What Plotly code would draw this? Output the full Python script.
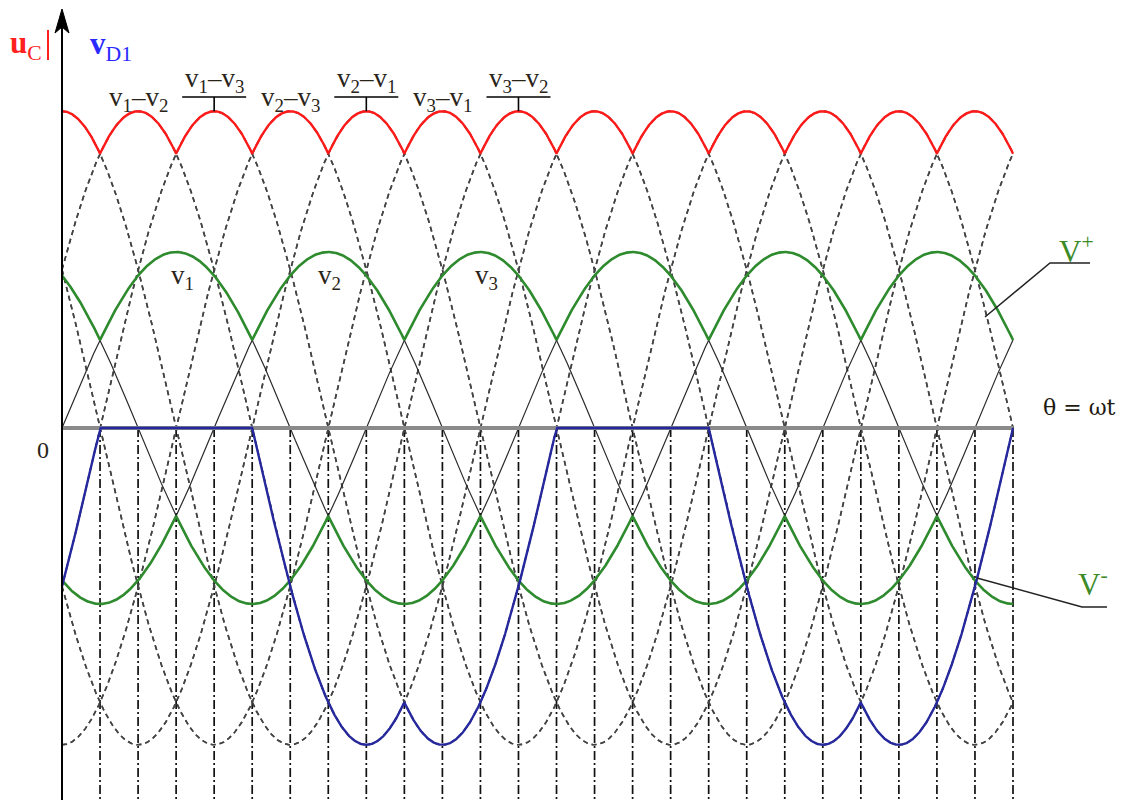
import numpy as np
import plotly.graph_objects as go

# ---------------- data ----------------
THETA_MAX = 750                      # end of drawn range, degrees
PHASE_AMP = 1.0                      # phase voltage amplitude
LINE_AMP = 1.8                       # line-to-line voltage amplitude (as drawn)
phase_names = ["v1", "v2", "v3"]
phase_lag = [0, 120, 240]            # degrees
line_names = ["v3-v2", "v1-v2", "v1-v3", "v2-v3", "v2-v1", "v3-v1"]
line_peak = [0, 60, 120, 180, 240, 300]   # angle of each line-voltage peak
divider_angles = list(range(30, THETA_MAX + 1, 30))

peak_label_text = ["v<sub>1</sub>–v<sub>2</sub>", "v<sub>1</sub>–v<sub>3</sub>",
                   "v<sub>2</sub>–v<sub>3</sub>", "v<sub>2</sub>–v<sub>1</sub>",
                   "v<sub>3</sub>–v<sub>1</sub>", "v<sub>3</sub>–v<sub>2</sub>"]
peak_label_theta = [60, 120, 180, 240, 300, 360]
peak_label_raised = [False, True, False, True, False, True]
phase_label_text = ["v<sub>1</sub>", "v<sub>2</sub>", "v<sub>3</sub>"]
phase_label_theta = [95, 211, 335]

# ---------------- geometry of the page ----------------
W, H = 1130, 800
OFF = 8                              # page body margin in the browser
X0_PX, XEND_PX = 62, 1013            # theta = 0 and theta = THETA_MAX (screen px)
Y0_PX, UNIT_PX = 428, 176            # zero line and one phase amplitude
SX = (XEND_PX - X0_PX) / THETA_MAX
x_range = [-(X0_PX - OFF) / SX, (W - (X0_PX - OFF)) / SX]
y_range = [-(H - (Y0_PX - OFF)) / UNIT_PX, (Y0_PX - OFF) / UNIT_PX]


def px(x, y):
    """screen pixel -> paper coordinates"""
    return (x - OFF) / W, 1 - (y - OFF) / H


theta = np.linspace(0, THETA_MAX, 3001)
rad = np.deg2rad(theta)
phases = [PHASE_AMP * np.sin(rad - np.deg2rad(s)) for s in phase_lag]
lines = [LINE_AMP * np.cos(rad - np.deg2rad(p)) for p in line_peak]
v_plus = np.max(phases, axis=0)
v_minus = np.min(phases, axis=0)
u_c = np.max(lines, axis=0)
# diode voltage: v1 - max phase, drawn with line-voltage scale
v_d1 = np.minimum(0, np.minimum(lines[1], lines[2]))

fig = go.Figure()

# dash-dot dividers (from zero line down)
for a in divider_angles:
    fig.add_trace(go.Scatter(x=[a, a], y=[0, y_range[0]], mode="lines",
                             line=dict(color="#111111", width=1.7, dash="9px,3px,2px,3px"),
                             hoverinfo="skip", showlegend=False))

# dashed line-to-line voltages (positive and negative)
for ln in lines:
    for sgn in (1, -1):
        fig.add_trace(go.Scatter(x=theta, y=sgn * ln, mode="lines",
                                 line=dict(color="#444444", width=1.6, dash="5px,4px"),
                                 hoverinfo="skip", showlegend=False))

# thin phase voltages
for ph, nm in zip(phases, phase_names):
    fig.add_trace(go.Scatter(x=theta, y=ph, mode="lines", name=nm,
                             line=dict(color="#2a2a2a", width=1.2),
                             hoverinfo="skip", showlegend=False))

# zero axis (grey)
fig.add_trace(go.Scatter(x=[0, THETA_MAX], y=[0, 0], mode="lines",
                         line=dict(color="#8a8a8a", width=4),
                         hoverinfo="skip", showlegend=False))

# envelopes
fig.add_trace(go.Scatter(x=theta, y=v_plus, mode="lines", name="V+",
                         line=dict(color="#2e8b2e", width=2.6), showlegend=False))
fig.add_trace(go.Scatter(x=theta, y=v_minus, mode="lines", name="V-",
                         line=dict(color="#2e8b2e", width=2.6), showlegend=False))
fig.add_trace(go.Scatter(x=theta, y=u_c, mode="lines", name="uC",
                         line=dict(color="#ff1a1a", width=2.4), showlegend=False))
fig.add_trace(go.Scatter(x=theta, y=v_d1, mode="lines", name="vD1",
                         line=dict(color="#26289e", width=2.4), showlegend=False))

shapes = []
ann = []
serif = "Liberation Serif"


def ypx_to_data(ypx):
    return (Y0_PX - ypx) / UNIT_PX


# vertical axis with arrow
shapes.append(dict(type="line", xref="paper", yref="paper",
                   x0=px(X0_PX, 0)[0], x1=px(X0_PX, 0)[0],
                   y0=px(0, H + OFF)[1], y1=px(0, 24)[1],
                   line=dict(color="black", width=2)))
p = [px(55, 33), px(62, 9), px(69, 33), px(62, 27)]
shapes.append(dict(type="path", xref="paper", yref="paper",
                   path="M {} {} L {} {} L {} {} L {} {} Z".format(
                       p[0][0], p[0][1], p[1][0], p[1][1], p[2][0], p[2][1], p[3][0], p[3][1]),
                   fillcolor="black", line=dict(color="black", width=1)))

# peak labels with bars
for txt, th, raised in zip(peak_label_text, peak_label_theta, peak_label_raised):
    ypx = 80 if raised else 99
    ann.append(dict(x=th, y=ypx_to_data(ypx), xref="x", yref="y", text=txt,
                    showarrow=False, xanchor="center", yanchor="middle",
                    font=dict(family=serif, size=27, color="#2a2418")))
    if raised:
        by = ypx_to_data(97)
        half = 32 / SX
        shapes.append(dict(type="line", xref="x", yref="y", x0=th - half, x1=th + half,
                           y0=by, y1=by, line=dict(color="black", width=1.6)))
        shapes.append(dict(type="line", xref="x", yref="y", x0=th, x1=th,
                           y0=by, y1=LINE_AMP, line=dict(color="black", width=1.6)))

# phase labels
for txt, th in zip(phase_label_text, phase_label_theta):
    ann.append(dict(x=th, y=ypx_to_data(277), xref="x", yref="y", text=txt,
                    showarrow=False, xanchor="center", yanchor="middle",
                    font=dict(family=serif, size=27, color="#2a2418")))


def text_px(x, y, txt, size, color, family=serif):
    xx, yy = px(x, y)
    ann.append(dict(x=xx, y=yy, xref="paper", yref="paper", text=txt, showarrow=False,
                    xanchor="center", yanchor="middle",
                    font=dict(family=family, size=size, color=color)))


text_px(26, 45, "<b>u</b><sub>C</sub>", 31, "#ff2020")
shapes.append(dict(type="line", xref="paper", yref="paper",
                   x0=px(48, 0)[0], x1=px(48, 0)[0], y0=px(0, 30)[1], y1=px(0, 60)[1],
                   line=dict(color="#ff2020", width=2)))
text_px(111, 46, "<b>v</b><sub>D1</sub>", 31, "#2a2aff")
text_px(43, 450, "0", 24, "#2a2418")
text_px(1079, 407, "θ = ωt", 22, "#1e1a12", family="DejaVu Serif")
text_px(1076, 249, "V<sup>+</sup>", 31, "#3c8a28")
text_px(1093, 582, "V<sup>-</sup>", 31, "#3c8a28")

# callout leaders
for (xa, ya), (xb, yb), (xc, yc) in [((985, 317), (1050, 263), (1090, 263)),
                                      ((977, 578), (1082, 607), (1107, 607))]:
    a, b, c = px(xa, ya), px(xb, yb), px(xc, yc)
    shapes.append(dict(type="path", xref="paper", yref="paper",
                       path="M {} {} L {} {} L {} {}".format(a[0], a[1], b[0], b[1], c[0], c[1]),
                       line=dict(color="#222222", width=1.5)))

fig.update_layout(
    width=W, height=H, margin=dict(l=0, r=0, t=0, b=0),
    paper_bgcolor="white", plot_bgcolor="white",
    xaxis=dict(range=x_range, visible=False, fixedrange=True),
    yaxis=dict(range=y_range, visible=False, fixedrange=True),
    shapes=shapes, annotations=ann, showlegend=False,
)

fig.write_html("out.html")
